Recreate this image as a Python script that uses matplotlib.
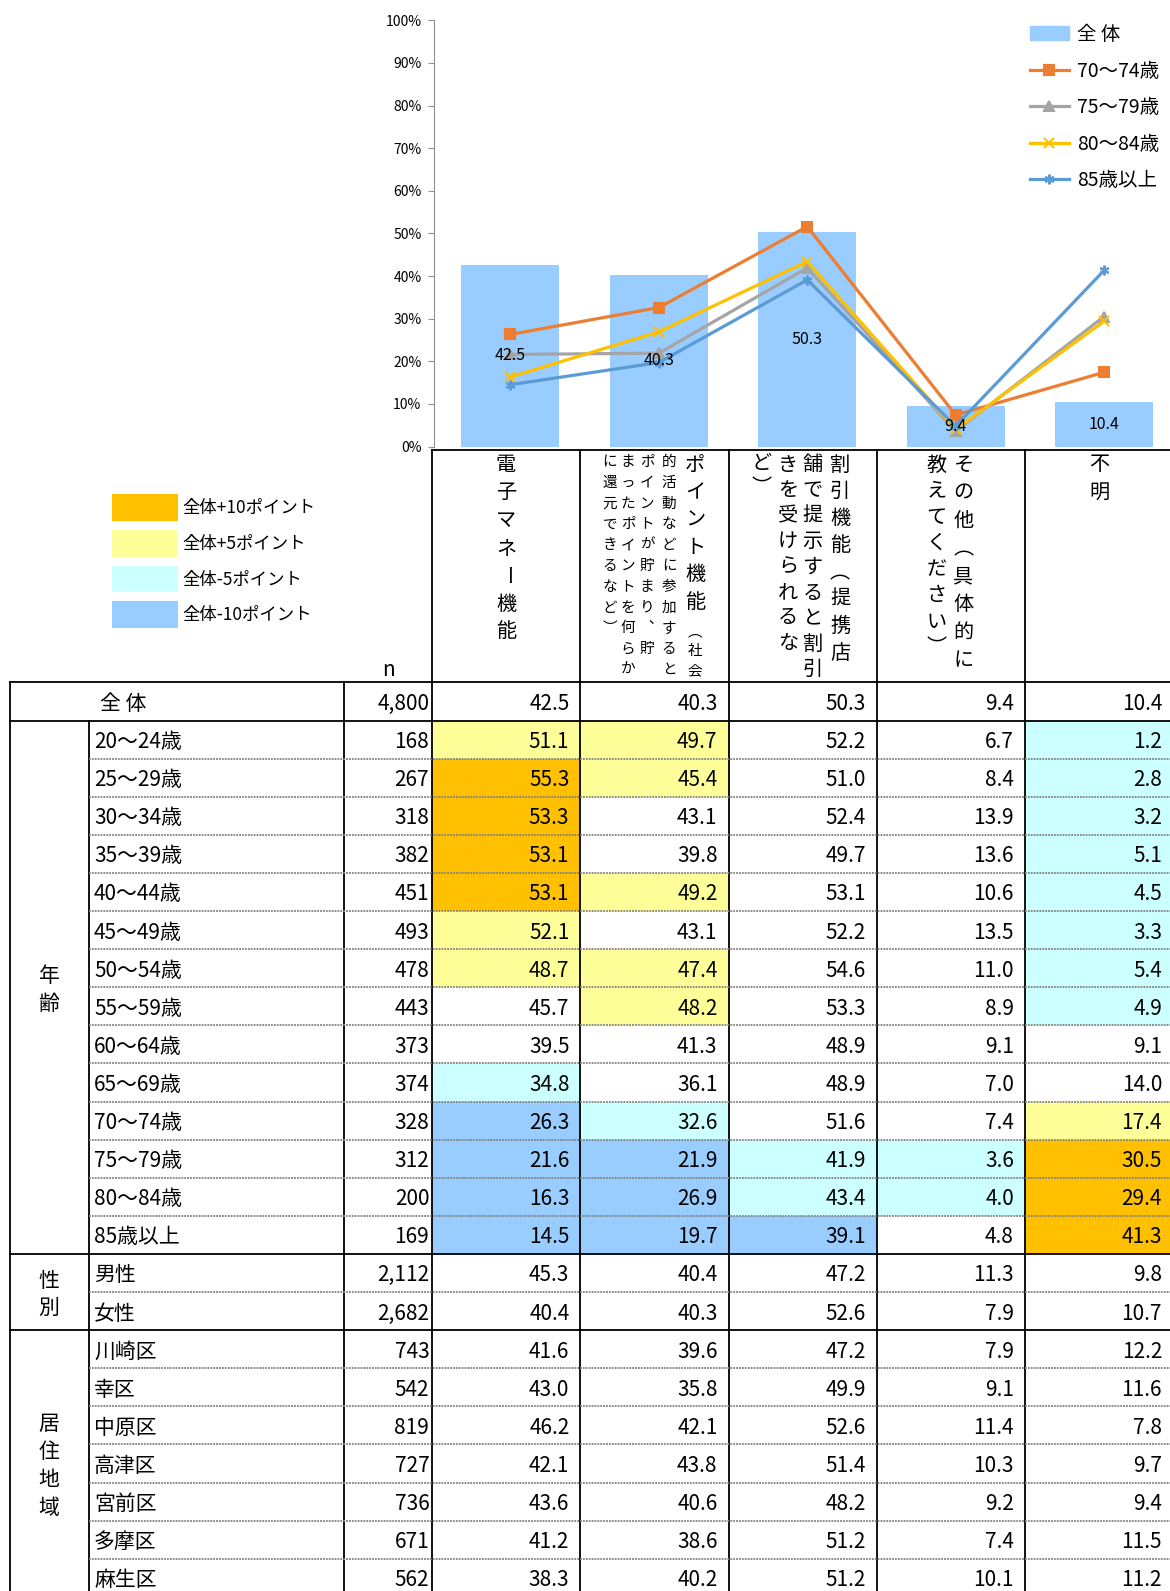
import matplotlib
matplotlib.use("Agg")
import matplotlib.pyplot as plt
from matplotlib.patches import Rectangle
from matplotlib.lines import Line2D

plt.rcParams['font.family'] = ['Noto Sans CJK JP', 'DejaVu Sans']
NARROW = ['Liberation Sans Narrow', 'Noto Sans CJK JP', 'DejaVu Sans']

# ---------------- data ----------------
header_text = [
    ["電子マネー機能"],
    ["ポイント機能", "（社会", "的活動などに参加すると", "ポイントが貯まり、貯",
     "まったポイントを何らか", "に還元できるなど）"],
    ["割引機能（提携店", "舗で提示すると割引", "きを受けられるな", "ど）"],
    ["その他（具体的に", "教えてください）"],
    ["不明"],
]
total_label = "全 体"
total_n = "4,800"
total_vals = [42.5, 40.3, 50.3, 9.4, 10.4]

row_labels = ["20～24歳", "25～29歳", "30～34歳", "35～39歳", "40～44歳", "45～49歳",
              "50～54歳", "55～59歳", "60～64歳", "65～69歳", "70～74歳", "75～79歳",
              "80～84歳", "85歳以上", "男性", "女性", "川崎区", "幸区", "中原区",
              "高津区", "宮前区", "多摩区", "麻生区"]
row_n = ["168", "267", "318", "382", "451", "493", "478", "443", "373", "374", "328",
         "312", "200", "169", "2,112", "2,682", "743", "542", "819", "727", "736",
         "671", "562"]
row_vals = [
    [51.1, 49.7, 52.2, 6.7, 1.2],
    [55.3, 45.4, 51.0, 8.4, 2.8],
    [53.3, 43.1, 52.4, 13.9, 3.2],
    [53.1, 39.8, 49.7, 13.6, 5.1],
    [53.1, 49.2, 53.1, 10.6, 4.5],
    [52.1, 43.1, 52.2, 13.5, 3.3],
    [48.7, 47.4, 54.6, 11.0, 5.4],
    [45.7, 48.2, 53.3, 8.9, 4.9],
    [39.5, 41.3, 48.9, 9.1, 9.1],
    [34.8, 36.1, 48.9, 7.0, 14.0],
    [26.3, 32.6, 51.6, 7.4, 17.4],
    [21.6, 21.9, 41.9, 3.6, 30.5],
    [16.3, 26.9, 43.4, 4.0, 29.4],
    [14.5, 19.7, 39.1, 4.8, 41.3],
    [45.3, 40.4, 47.2, 11.3, 9.8],
    [40.4, 40.3, 52.6, 7.9, 10.7],
    [41.6, 39.6, 47.2, 7.9, 12.2],
    [43.0, 35.8, 49.9, 9.1, 11.6],
    [46.2, 42.1, 52.6, 11.4, 7.8],
    [42.1, 43.8, 51.4, 10.3, 9.7],
    [43.6, 40.6, 48.2, 9.2, 9.4],
    [41.2, 38.6, 51.2, 7.4, 11.5],
    [38.3, 40.2, 51.2, 10.1, 11.2],
]
group_names = ["年齢", "性別", "居住地域"]
group_sizes = [14, 2, 7]

line_series = ["70～74歳", "75～79歳", "80～84歳", "85歳以上"]
legend_names = ["全体+10ポイント", "全体+5ポイント", "全体-5ポイント", "全体-10ポイント"]

# ---------------- styles ----------------
bar_color = "#99CCFF"
line_colors = ["#ED7D31", "#A5A5A5", "#FFC000", "#5B9BD5"]
line_markers = ["s", "^", "x", (6, 2, 0)]
fill_colors = ["#FFC000", "#FFFF99", "#CCFFFF", "#99CCFF"]

W, H = 1170, 1591
fig = plt.figure(figsize=(W / 100, H / 100), dpi=100)
base = fig.add_axes([0, 0, 1, 1])
base.set_xlim(0, W)
base.set_ylim(H, 0)
base.axis("off")

# table geometry (pixels)
X = [10.1, 89.3, 344, 432.3, 580.4, 728.6, 876.7, 1024.9, 1173]
head_top, tot_top, data_top, rh = 449.5, 682, 720.5, 38.1
bottom = 1600
dy = 2.5  # nudge text down a little

# ---------------- chart ----------------
y0, y100 = 446.5, 20.3
ax_left, ax_right = 434, 1176
ax = fig.add_axes([ax_left / W, (H - y0) / H, (ax_right - ax_left) / W, (y0 - y100) / H])
ax.patch.set_alpha(0)
xs = list(range(len(total_vals)))
ax.bar(xs, total_vals, width=0.66, color=bar_color, zorder=1)
for i, v in enumerate(total_vals):
    ax.text(i, v / 2, f"{v:.1f}", ha="center", va="center", fontsize=11.5,
            family=NARROW, zorder=4)
handles = [Rectangle((0, 0), 1, 1, color=bar_color)]
for name, c, m in zip(line_series, line_colors, line_markers):
    vals = row_vals[row_labels.index(name)]
    ax.plot(xs, vals, color=c, lw=2.3, marker=m, ms=7, mew=1.5, zorder=3)
    handles.append(Line2D([], [], color=c, lw=2.3, marker=m, ms=7, mew=1.5))
ax.set_xlim(-0.515, 4.485)
ax.set_ylim(0, 100)
ax.set_yticks(range(0, 101, 10))
ax.set_yticklabels([f"{t}%" for t in range(0, 101, 10)], family=NARROW, fontsize=10)
ax.set_xticks([])
for s in ["top", "right", "bottom"]:
    ax.spines[s].set_visible(False)
ax.spines["left"].set_color("#909090")
ax.tick_params(axis="y", length=4, color="#909090", pad=5)
ax.legend(handles, ["全 体"] + line_series, loc="upper left",
          bbox_to_anchor=(1030, 24), bbox_transform=base.transData,
          frameon=False, fontsize=14, handlelength=2.0, handletextpad=0.4,
          labelspacing=0.8, borderaxespad=0, borderpad=0)

# ---------------- cell fills ----------------
for r, vals in enumerate(row_vals):
    for k, v in enumerate(vals):
        d = round(v - total_vals[k], 1)
        col = None
        if d >= 10:
            col = fill_colors[0]
        elif d >= 5:
            col = fill_colors[1]
        elif d <= -10:
            col = fill_colors[3]
        elif d <= -5:
            col = fill_colors[2]
        if col:
            base.add_patch(Rectangle((X[k + 3], data_top + r * rh), X[k + 4] - X[k + 3], rh,
                                     color=col, lw=0, zorder=1))

# ---------------- table lines ----------------
lw = 1.3
base.plot([X[3], X[8]], [head_top, head_top], color="k", lw=lw, zorder=2)
for x in X[3:8]:
    base.plot([x, x], [head_top, bottom], color="k", lw=lw, zorder=2)
base.plot([X[0], X[0]], [tot_top, bottom], color="k", lw=lw, zorder=2)
base.plot([X[2], X[2]], [tot_top, bottom], color="k", lw=lw, zorder=2)
base.plot([X[1], X[1]], [data_top, bottom], color="k", lw=lw, zorder=2)
base.plot([X[0], X[8]], [tot_top, tot_top], color="k", lw=lw, zorder=2)
start = 0
for g, n in enumerate(group_sizes):
    top = data_top + start * rh
    base.plot([X[0], X[8]], [top, top], color="k", lw=lw, zorder=2)
    for j in range(1, n):
        yy = top + j * rh
        base.plot([X[1], X[8]], [yy, yy], color="#808080", lw=1.3,
                  ls=(0, (1, 0.6)), zorder=2)
    # group label, written vertically
    name = group_names[g]
    cy = top + n * rh / 2
    for ci, ch in enumerate(name):
        base.text(49, cy + dy + (ci - (len(name) - 1) / 2) * 27.8, ch, ha="center",
                  va="center", fontsize=15)
    start += n

# ---------------- table text ----------------
tfs = 15
base.text(388.6, 670, "n", ha="center", va="center", fontsize=tfs)
yc = (tot_top + data_top) / 2 + dy
base.text(123, yc, total_label, ha="center", va="center", fontsize=tfs)
base.text(X[3] - 3, yc, total_n, ha="right", va="center", fontsize=tfs)
for k, v in enumerate(total_vals):
    base.text(X[k + 4] - 11, yc, f"{v:.1f}", ha="right", va="center", fontsize=tfs)
for r, (lab, n, vals) in enumerate(zip(row_labels, row_n, row_vals)):
    yc = data_top + (r + 0.5) * rh + dy
    base.text(94, yc, lab, ha="left", va="center", fontsize=tfs)
    base.text(X[3] - 3, yc, n, ha="right", va="center", fontsize=tfs)
    for k, v in enumerate(vals):
        base.text(X[k + 4] - 11, yc, f"{v:.1f}", ha="right", va="center", fontsize=tfs)

# ---------------- vertical header text ----------------
header_layout = [
    [(506, 465, 27.8, 14.5)],
    [(695, 465, 27.5, 14.5), (695, 632, 19.5, 10.5), (669, 462, 20.8, 10.5),
     (647, 462, 20.8, 10.5), (628, 462, 20.8, 10.5), (610, 462, 20.8, 10.5)],
    [(840, 465, 26.9, 14.5), (812.5, 465, 25.6, 14.5), (788, 465, 25.5, 14.5),
     (762, 463, 25, 14.5)],
    [(963.5, 465, 27.9, 14.5), (936.7, 465, 26.2, 14.5)],
    [(1099.4, 465, 26.8, 14.5)],
]
vertical_forms = {"（": "︵", "）": "︶", "、": "︑"}
for texts, lays in zip(header_text, header_layout):
    for txt, (hx, hy, pitch, fs) in zip(texts, lays):
        for ci, ch in enumerate(txt):
            rot = -90 if ch == "ー" else 0
            ch = vertical_forms.get(ch, ch)
            base.text(hx, hy + ci * pitch, ch, ha="center", va="center", fontsize=fs,
                      rotation=rot, rotation_mode="anchor")

# ---------------- colour legend ----------------
leg_y = [494, 530, 565.5, 601]
for name, c, ly in zip(legend_names, fill_colors, leg_y):
    base.add_patch(Rectangle((111.6, ly), 66, 26.5, color=c, lw=0))
    base.text(182.5, ly + 14, name, ha="left", va="center", fontsize=12.5)

fig.savefig("out.png", dpi=100)
